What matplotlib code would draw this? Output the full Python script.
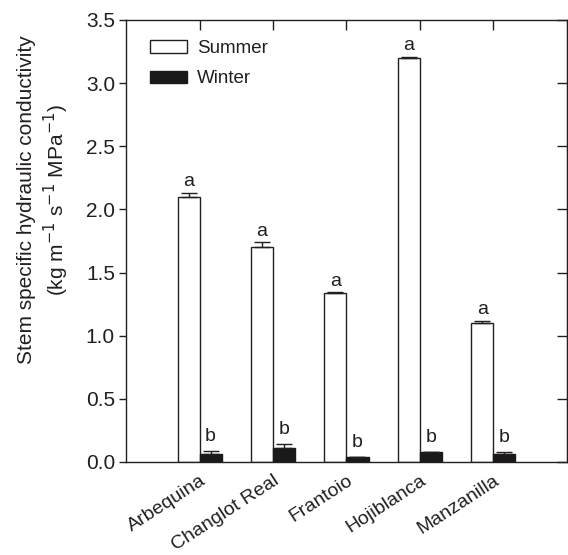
import matplotlib
matplotlib.use("Agg")
import matplotlib.pyplot as plt
import numpy as np
from matplotlib.patches import Patch

plt.rcParams['font.family'] = ['Liberation Sans', 'DejaVu Sans']

cultivars = ["Arbequina", "Changlot Real", "Frantoio", "Hojiblanca", "Manzanilla"]
summer = [2.10, 1.70, 1.34, 3.20, 1.10]
summer_err = [0.03, 0.04, 0.005, 0.01, 0.02]
winter = [0.065, 0.11, 0.04, 0.08, 0.063]
winter_err = [0.025, 0.035, 0.003, 0.003, 0.015]
summer_letters = ["a", "a", "a", "a", "a"]
winter_letters = ["b", "b", "b", "b", "b"]

txt = "#231f20"
fig = plt.figure(figsize=(5.68, 5.55), dpi=100)
ax = fig.add_axes([0.222, 0.1676, 0.776, 0.7964])

x = np.arange(len(cultivars))
w = 0.3
ax.bar(x - w/2, summer, w, color="white", edgecolor=txt, linewidth=1.0, zorder=2)
ax.bar(x + w/2, winter, w, color="#1a1a1a", edgecolor="#1a1a1a", linewidth=1.0, zorder=2)
ax.errorbar(x - w/2, summer, yerr=[np.zeros(5), summer_err], fmt="none", ecolor=txt,
            elinewidth=1.0, capsize=6, capthick=1.0, zorder=3)
ax.errorbar(x + w/2, winter, yerr=[np.zeros(5), winter_err], fmt="none", ecolor=txt,
            elinewidth=1.0, capsize=6, capthick=1.0, zorder=3)

for i in range(len(cultivars)):
    ax.text(x[i] - w/2, summer[i] + summer_err[i] + 0.02, summer_letters[i],
            ha="center", va="bottom", fontsize=14, color=txt)
    ax.text(x[i] + w/2, winter[i] + winter_err[i] + 0.045, winter_letters[i],
            ha="center", va="bottom", fontsize=14, color=txt)

ax.set_xlim(-1, 5)
ax.set_ylim(0, 3.5)
yt = np.arange(0, 3.51, 0.5)
ax.set_yticks(yt)
ax.set_yticklabels([f"{v:.1f}" for v in yt], fontsize=15, color=txt)
ax.set_xticks(x)
ax.set_xticklabels(cultivars, rotation=33, ha="right", rotation_mode="anchor",
                   fontsize=14, color=txt)
ax.tick_params(axis="x", which="major", bottom=False, top=True, labelbottom=True,
               labeltop=False, direction="in", length=7, width=1, color=txt, pad=7)
ax.tick_params(axis="y", which="major", left=True, right=False, direction="out",
               length=5, width=1, color=txt, pad=3)
ax2 = ax.secondary_yaxis("right")
ax2.set_yticks(yt)
ax2.tick_params(direction="in", length=7, width=1, color=txt, labelright=False)
ax2.spines["right"].set_color(txt)
for s in ax.spines.values():
    s.set_color(txt)
    s.set_linewidth(1.0)

ax.set_ylabel("Stem specific hydraulic conductivity\n(kg m$^{-1}$ s$^{-1}$ MPa$^{-1}$)",
              fontsize=15, color=txt, linespacing=1.25)
ax.yaxis.set_label_coords(-0.125, 0.593)

handles = [Patch(facecolor="white", edgecolor=txt, label="Summer"),
           Patch(facecolor="#1a1a1a", edgecolor="#1a1a1a", label="Winter")]
leg = ax.legend(handles=handles, loc="upper left", bbox_to_anchor=(0.054, 0.954),
                frameon=False, fontsize=13.5, handlelength=2.0, handleheight=0.65,
                labelspacing=0.7, handletextpad=0.5, borderpad=0, borderaxespad=0)
for t in leg.get_texts():
    t.set_color(txt)

fig.savefig("out.png", dpi=100)
